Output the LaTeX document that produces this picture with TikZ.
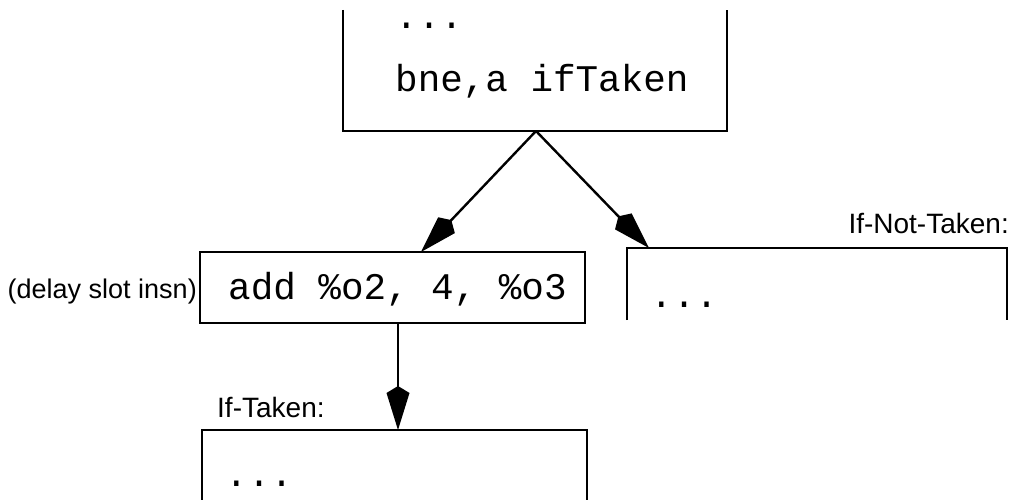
\documentclass[tikz,border=0pt]{standalone}
\usepackage{fontspec}
\setmainfont{Liberation Sans}
\newfontfamily\codefont{Liberation Mono}
\usetikzlibrary{arrows.meta}
\tikzset{
  frame/.style={line width=2.6pt, line cap=butt, line join=miter},
  flow/.style={line width=2.4pt, -{Kite[length=44pt, width=23pt, inset=7pt]}},
  code/.style={font=\codefont\fontsize{37.6}{40}\selectfont, inner sep=0pt, anchor=base west},
  label/.style={font=\fontsize{28}{30}\selectfont, inner sep=0pt},
}
\begin{document}
\begin{tikzpicture}[x=1pt, y=-1pt]
\useasboundingbox (0,0) rectangle (1012,500);

% branch block (open at the top)
\draw[frame] (343,10) -- (343,131) -- (727,131) -- (727,10);
\node[code] (dots1) at (395,29) {...};
\node[code] (bne) at (395,92) {bne,a ifTaken};
\coordinate (branch) at (536,131);

% delay slot block
\draw[frame] (200,252) rectangle (585,323);
\node[code] (add) at (228,299) {add \%o2, 4, \%o3};
\coordinate (delayTop) at (421,252);
\coordinate (delayBot) at (398,323);
\node[label, font=\fontsize{27}{30}\selectfont, anchor=base east] (delaylbl) at (197,298) {(delay slot insn)};

% not-taken block (open at the bottom)
\draw[frame] (627,320) -- (627,248) -- (1007,248) -- (1007,320);
\node[code] (dots2) at (650,307) {...};
\coordinate (notTop) at (649,248);
\node[label, anchor=base east] (notlbl) at (1009,233) {If-Not-Taken:};

% taken block (continues below)
\draw[frame] (202,502) -- (202,430) -- (587,430) -- (587,502);
\node[code] (dots3) at (225,486) {...};
\coordinate (takenTop) at (398,430);
\node[label, anchor=base west] (takenlbl) at (217,417) {If-Taken:};

% control flow
\draw[flow] (branch) -- (delayTop);
\draw[flow] (branch) -- (notTop);
\draw[flow] (delayBot) -- (takenTop);
\end{tikzpicture}
\end{document}
